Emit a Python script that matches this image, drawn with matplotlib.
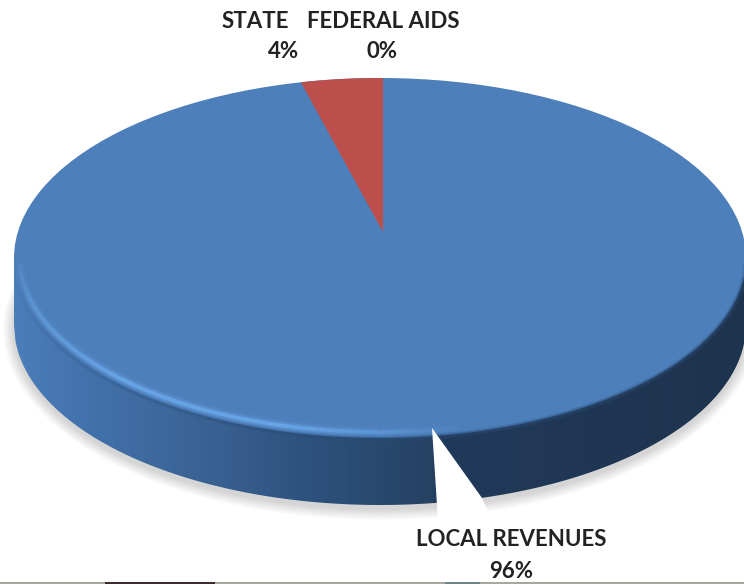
import numpy as np
import matplotlib
matplotlib.use('Agg')
import matplotlib.pyplot as plt
from matplotlib.collections import LineCollection
from matplotlib.colors import LinearSegmentedColormap, to_rgb
from matplotlib.patches import Ellipse, Polygon, Rectangle

# pie data (unrounded shares)
labels = ['LOCAL REVENUES', 'STATE', 'FEDERAL AIDS']
values = [96.4, 3.6, 0.0]

plt.rcParams['font.family'] = ['Lato', 'DejaVu Sans']

# pie geometry in pixels
cx, cy = 380, 258
a, b = 366, 180
depth = 67
apex = (383, 232)

fig = plt.figure(figsize=(7.44, 5.84), dpi=100)
ax = fig.add_axes([0, 0, 1, 1])
ax.axis('off')


def rim(ax, inset, lw, color, strength):
    # stroke along the lower edge, opacity follows x through strength
    s = np.linspace(np.radians(2), np.radians(178), 300)
    x = cx + (a - inset) * np.cos(s)
    y = cy + (b - inset) * np.sin(s)
    pts = np.column_stack([x, y])
    segs = np.stack([pts[:-1], pts[1:]], axis=1)
    alpha = strength((x[:-1] + x[1:]) / 2)
    rgba = np.column_stack([np.tile(to_rgb(color), (len(alpha), 1)), alpha])
    ax.add_collection(LineCollection(segs, colors=rgba, linewidths=lw,
                                     capstyle='butt', zorder=5))


# soft shadow under the disc
for i in range(14):
    grow = 22 - i * 1.6
    ax.add_patch(Ellipse((cx, cy + depth + 4), 2 * a + grow, 2 * b + grow,
                         fc='black', ec='none', alpha=0.012, zorder=1))

# side wall, shaded left to right
wall_x = np.linspace(cx - a, cx + a, 500)
wall_top = cy + b * np.sqrt(np.clip(1 - ((wall_x - cx) / a) ** 2, 0, 1))
wall_pts = np.column_stack([np.r_[wall_x, wall_x[::-1]],
                            np.r_[wall_top + depth, np.maximum(wall_top - 10, cy)[::-1]]])
wall = Polygon(wall_pts, closed=True, fc='none', ec='none')
ax.add_patch(wall)
wall_cmap = LinearSegmentedColormap.from_list('wall', [
    (0.0, '#4b7dba'), (0.117, '#4170a8'), (0.254, '#3a6394'), (0.39, '#2e5380'),
    (0.568, '#264263'), (0.59, '#213a5a'), (1.0, '#1e334d')])
im = ax.imshow(np.linspace(0, 1, 600).reshape(1, -1), cmap=wall_cmap,
               extent=[cx - a, cx + a, 584, 0], aspect='auto', zorder=2)
im.set_clip_path(wall)
ax.set_xlim(0, 744)
ax.set_ylim(584, 0)

# top face
ax.add_patch(Ellipse((cx, cy), 2 * a, 2 * b, fc='#4d7fba', ec='none', zorder=4))

# soft dark edge where the face meets the wall
dark = lambda x: np.interp(x, [14, 60, 300, 440, 746], [0.0, 0.15, 0.35, 0.45, 0.45])
rim(ax, -1, 3.0, '#2a4a72', dark)
rim(ax, 1, 2.0, '#2f5585', lambda x: 0.6 * dark(x))

# lighter bevel along the lower left rim
glow = lambda x: np.interp(x, [14, 30, 120, 280, 400, 470], [0.05, 0.45, 1.0, 1.0, 0.35, 0.0])
rim(ax, 6, 8.0, '#5b8fd0', lambda x: 0.35 * glow(x))
rim(ax, 6, 5.0, '#629ada', lambda x: 0.55 * glow(x))
rim(ax, 6, 2.5, '#6cabee', lambda x: 0.8 * glow(x))

# white gap cut into the wall
ax.add_patch(Polygon([(432, 428), (437, 505), (438, 520), (492, 520), (482, 498)],
                     closed=True, fc='white', ec='none', zorder=6))

# red STATE slice, swept anticlockwise from 12 o'clock by its share
sweep = np.radians(values[1] / sum(values) * 360)
s = np.linspace(0, sweep, 30) - np.radians(0.47)
red = [apex] + list(zip(cx - a * np.sin(s), cy - b * np.cos(s)))
ax.add_patch(Polygon(red, closed=True, fc='#bc4f4b', ec='none', zorder=6))

# labels
txt = dict(ha='center', va='center', fontsize=16, fontweight='bold',
           color='#222222', zorder=8)
ax.text(511, 540, labels[0], **txt)
ax.text(511, 572, f'{values[0]:.0f}%', **txt)
ax.text(255, 21, labels[1], **txt)
state_pct = ax.text(284, 52, f'{values[1]:.0f}%', **txt)
state_pct.set_clip_path(Rectangle((250, 35), 47, 35, transform=ax.transData))
ax.text(383, 21, labels[2], **txt)
ax.text(382, 52, f'{values[2]:.0f}%', **txt)

# strip of the screenshot showing at the bottom edge
ax.add_patch(Rectangle((0, 582), 744, 2, fc='#a9a8a0', ec='none', zorder=9))
ax.add_patch(Rectangle((105, 582), 110, 2, fc='#3d2c2c', ec='none', zorder=9))
ax.add_patch(Rectangle((445, 582), 35, 2, fc='#6f8588', ec='none', zorder=9))

fig.savefig('out.png', dpi=100)
